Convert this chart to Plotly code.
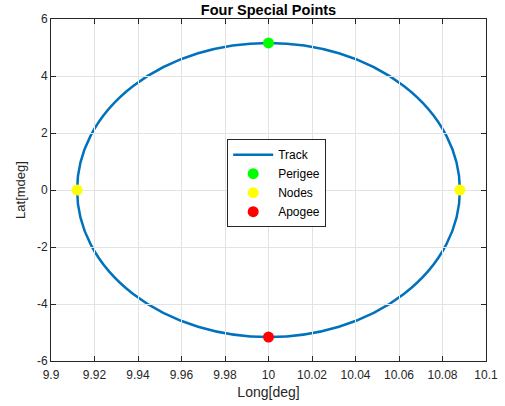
import plotly.graph_objects as go

# Data
center_long = 10.0          # deg
semi_long = 0.088           # deg (half width of track)
semi_lat = 5.16             # mdeg (half height of track)

perigee_x = [10.0]
perigee_y = [5.16]
nodes_x = [9.912, 10.088]
nodes_y = [0.0, 0.0]
apogee_x = [10.0]
apogee_y = [-5.16]

x_ticks = [9.9, 9.92, 9.94, 9.96, 9.98, 10, 10.02, 10.04, 10.06, 10.08, 10.1]
x_tick_labels = ["9.9", "9.92", "9.94", "9.96", "9.98", "10", "10.02", "10.04", "10.06", "10.08", "10.1"]
y_ticks = [-6, -4, -2, 0, 2, 4, 6]
y_tick_labels = ["-6", "-4", "-2", "0", "2", "4", "6"]

FONT = "Liberation Sans, Arial, Helvetica, sans-serif"
TRACK_COLOR = "#0072BD"

fig = go.Figure()

# Legend entry for the track (track itself drawn as an ellipse shape in data coords)
fig.add_trace(go.Scatter(x=[None], y=[None], mode="lines", name="Track",
                         line=dict(color=TRACK_COLOR, width=2.5)))
fig.add_shape(type="circle", xref="x", yref="y",
              x0=center_long - semi_long, x1=center_long + semi_long,
              y0=-semi_lat, y1=semi_lat,
              line=dict(color=TRACK_COLOR, width=2.5), layer="below")

fig.add_trace(go.Scatter(x=perigee_x, y=perigee_y, mode="markers", name="Perigee",
                         marker=dict(color="#00FF00", size=11, line=dict(width=0))))
fig.add_trace(go.Scatter(x=nodes_x, y=nodes_y, mode="markers", name="Nodes",
                         marker=dict(color="#FFFF00", size=11, line=dict(width=0))))
fig.add_trace(go.Scatter(x=apogee_x, y=apogee_y, mode="markers", name="Apogee",
                         marker=dict(color="#FF0000", size=11, line=dict(width=0))))

axis_common = dict(
    showgrid=True, gridcolor="#E3E3E3", gridwidth=1,
    showline=True, linecolor="#262626", linewidth=1, mirror="ticks",
    ticks="inside", ticklen=5, tickcolor="#262626", tickwidth=1,
    zeroline=False, automargin=False,
    tickfont=dict(family=FONT, size=12, color="#262626"),
)

fig.update_layout(
    width=505, height=406,
    margin=dict(l=51, r=19, t=19, b=45),
    paper_bgcolor="white", plot_bgcolor="white",
    font=dict(family=FONT, color="#262626"),
    title=dict(text="<b>Four Special Points</b>", x=268.5 / 505, xanchor="center",
               y=1 - 9.5 / 406, yanchor="middle",
               font=dict(family=FONT, size=14.5, color="black")),
    xaxis=dict(range=[9.9, 10.1], tickvals=x_ticks, ticktext=x_tick_labels,
               ticklabelstandoff=3,
               title=dict(text="Long[deg]", font=dict(family=FONT, size=14, color="#262626"),
                          standoff=5),
               **axis_common),
    yaxis=dict(range=[-6, 6], tickvals=y_ticks, ticktext=y_tick_labels,
               title=dict(text="Lat[mdeg]", font=dict(family=FONT, size=13, color="#262626"),
                          standoff=8),
               **axis_common),
    legend=dict(x=0.405, y=0.52, xanchor="left", yanchor="middle",
                bgcolor="white", bordercolor="#262626", borderwidth=1,
                font=dict(family=FONT, size=12, color="black"),
                tracegroupgap=0, itemwidth=40),
    showlegend=True,
)

fig.write_html("out.html")
